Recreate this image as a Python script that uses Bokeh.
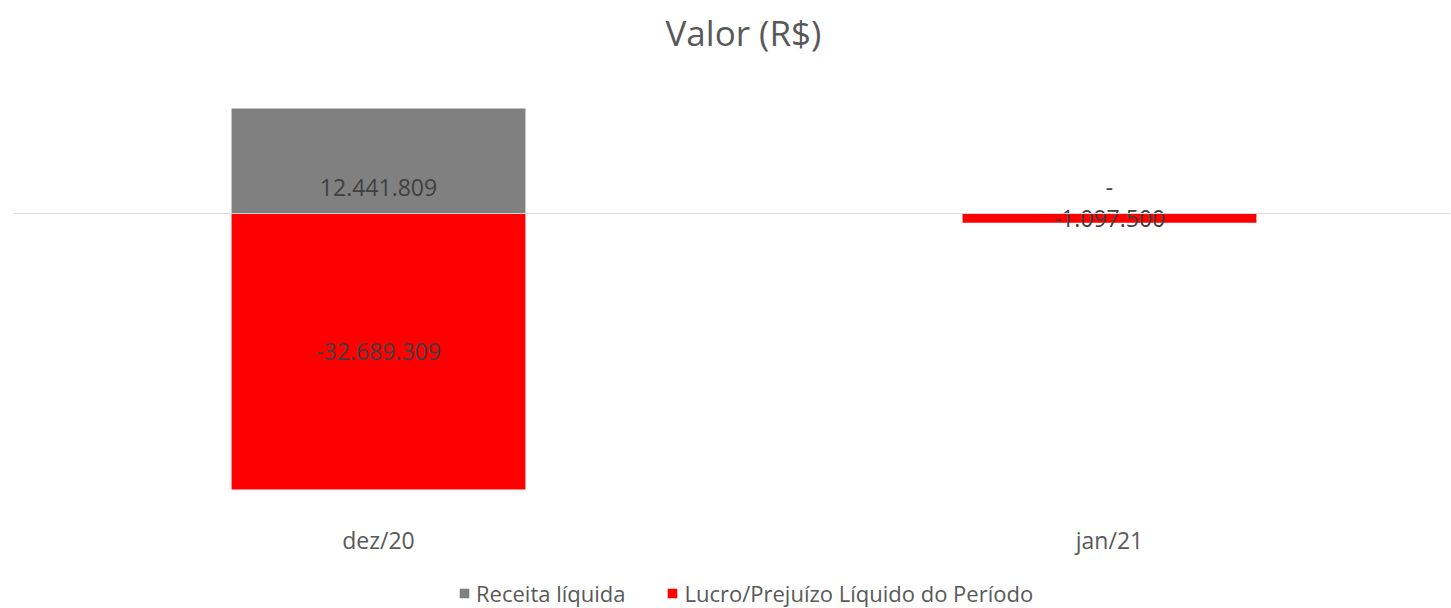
from bokeh.plotting import figure
from bokeh.layouts import column
from bokeh.models import ColumnDataSource, Span, Legend, LegendItem, FixedTicker, Range1d
from bokeh.embed import file_html
from bokeh.resources import INLINE
from bokeh.core.properties import value

categories = ["dez/20", "jan/21"]
receita = [12441809, 0]
lucro = [-32689309, -1097500]
series_names = ["Receita líquida", "Lucro/Prejuízo Líquido do Período"]
colors = ["#808080", "#FF0000"]


def fmt(v):
    if v == 0:
        return "-"
    s = f"{abs(v):,}".replace(",", ".")
    return ("-" if v < 0 else "") + s


idx = list(range(len(categories)))
src = ColumnDataSource(dict(
    x=idx,
    receita=receita,
    lucro=lucro,
    zero=[0] * len(idx),
    lucro_mid=[v / 2 for v in lucro],
    receita_lbl=[fmt(v) for v in receita],
    lucro_lbl=[fmt(v) for v in lucro],
))

W = 1450
H_MAIN, H_LEG = 578, 30
FONT = "Open Sans"

p = figure(width=W, height=H_MAIN, output_backend="svg", toolbar_location=None,
           x_range=Range1d(-0.4993, 1.4665), y_range=Range1d(-36.12e6, 18.12e6),
           min_border_left=13, min_border_right=0, min_border_top=60, min_border_bottom=H_MAIN - 518)
p.background_fill_color = "white"
p.border_fill_color = "white"
p.outline_line_color = None
p.xgrid.visible = False
p.ygrid.visible = False
p.yaxis.visible = False

p.title.text = "Valor (R$)"
p.title.align = "left"
p.title.offset = 652
p.title.text_font = FONT
p.title.text_font_size = "35px"
p.title.text_font_style = "normal"
p.title.text_color = "#595959"

bw = 0.402
p.vbar(x="x", top="receita", bottom=0, width=bw, source=src,
       fill_color=colors[0], line_color=None)
p.vbar(x="x", top="lucro", bottom=0, width=bw, source=src,
       fill_color=colors[1], line_color=None)

p.add_layout(Span(location=0, dimension="width", line_color="#d9d9d9", line_width=1))

p.text(x="x", y="zero", text="receita_lbl", source=src, y_offset=-26,
       text_align="center", text_baseline="middle", text_color="#404040",
       text_font=value(FONT), text_font_size="23px")
p.text(x="x", y="lucro_mid", text="lucro_lbl", source=src,
       text_align="center", text_baseline="middle", text_color="#404040",
       text_font=value(FONT), text_font_size="23px")

ax = p.xaxis[0]
ax.ticker = FixedTicker(ticks=idx)
ax.major_label_overrides = {i: c for i, c in zip(idx, categories)}
ax.axis_line_color = None
ax.major_tick_line_color = None
ax.minor_tick_line_color = None
ax.major_tick_out = 0
ax.major_tick_in = 0
ax.major_label_standoff = 5
ax.major_label_text_font = FONT
ax.major_label_text_font_size = "23px"
ax.major_label_text_color = "#595959"

# legend strip: same series drawn far out of view, only their legend swatches show
pl = figure(width=W, height=H_LEG, output_backend="svg", toolbar_location=None,
            x_range=Range1d(100, 101), y_range=Range1d(5e8, 5e8 + 1),
            min_border_left=0, min_border_right=0, min_border_top=0, min_border_bottom=0)
pl.axis.visible = False
pl.grid.visible = False
pl.outline_line_color = None
pl.background_fill_color = "white"
pl.border_fill_color = "white"
l1 = pl.vbar(x="x", top="receita", bottom=0, width=bw, source=src,
             fill_color=colors[0], line_color=None)
l2 = pl.vbar(x="x", top="lucro", bottom=0, width=bw, source=src,
             fill_color=colors[1], line_color=None)

legend = Legend(items=[LegendItem(label=series_names[0], renderers=[l1]),
                       LegendItem(label=series_names[1], renderers=[l2])],
                orientation="horizontal", location=(445, 0),
                glyph_width=12, glyph_height=12, label_standoff=6, spacing=41,
                label_text_font=FONT, label_text_font_size="22px",
                label_text_color="#595959", border_line_color=None,
                background_fill_alpha=0, padding=0, margin=0)
pl.add_layout(legend)

layout = column(p, pl, spacing=0)
open("out.html", "w").write(file_html(layout, INLINE))
